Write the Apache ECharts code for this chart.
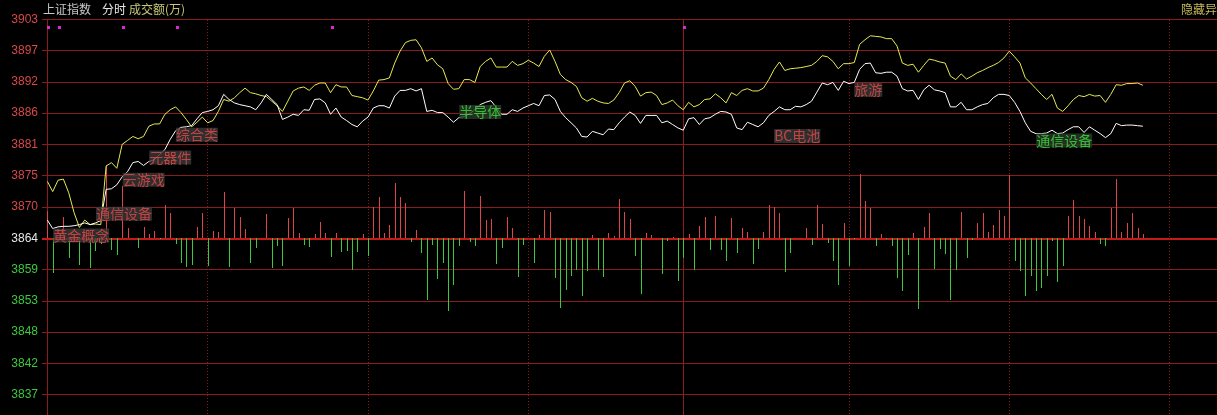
<!DOCTYPE html>
<html><head><meta charset="utf-8">
<script src="https://cdn.jsdelivr.net/npm/echarts@6/dist/echarts.min.js"></script>
<style>html,body{margin:0;padding:0;background:#000;overflow:hidden;width:1217px;height:415px}#c{width:1340px;height:432px}</style>
</head><body><div id="c"></div>
<script>
// previous close and level step of the price axis
const BASE = 3864.4;
const STEP = 5.5;
// tick labels, from 5 steps below the close to 7 steps above
const tickLabels = ['3837','3842','3848','3853','3859','3864','3870','3875','3881','3886','3892','3897','3903'];

// yellow line (one value per minute from 9:30)
const leadLine = [
3874.4,3872.6,3874.6,3874.8,3872.4,3868.9,3866.3,3867.6,3866.8,3866.9,
3866.8,3877.1,3877.7,3876.7,3880.9,3881.6,3882.3,3881.9,3882.3,3884.1,
3884.5,3884.5,3886.2,3887.0,3887.5,3886.5,3885.3,3884.0,3884.8,3885.7,
3884.7,3885.1,3886.7,3888.8,3888.5,3889.1,3890.0,3890.8,3890.0,3889.8,
3889.5,3889.3,3888.5,3887.7,3886.7,3888.5,3890.3,3890.8,3891.0,3890.4,
3891.3,3891.7,3891.7,3890.0,3891.4,3891.0,3891.0,3889.5,3889.3,3889.1,
3888.7,3890.3,3892.2,3892.3,3892.6,3895.2,3897.3,3898.8,3899.2,3899.3,
3897.9,3895.5,3896.1,3894.9,3894.2,3891.6,3890.6,3890.7,3892.3,3892.3,
3891.8,3894.6,3895.5,3896.1,3894.5,3894.5,3894.5,3895.5,3894.8,3895.1,
3895.7,3895.2,3894.6,3896.4,3897.5,3895.5,3893.2,3892.3,3891.8,3891.1,
3889.1,3888.5,3889.0,3888.5,3888.2,3888.1,3888.7,3890.0,3891.7,3892.1,
3891.1,3889.4,3890.0,3890.1,3889.5,3887.9,3888.2,3888.7,3887.7,3887.0,
3888.3,3887.5,3887.9,3888.8,3888.9,3889.8,3889.1,3888.2,3890.0,3889.5,
3890.4,3890.7,3890.3,3890.3,3890.8,3892.3,3894.1,3895.4,3893.9,3894.2,
3894.3,3894.4,3894.6,3894.8,3895.5,3896.5,3896.3,3895.5,3894.2,3895.1,
3895.1,3895.3,3898.5,3899.3,3900.0,3899.9,3899.8,3899.5,3899.5,3898.2,
3895.2,3894.8,3895.0,3893.6,3894.8,3895.9,3895.7,3895.4,3895.2,3892.9,
3892.3,3893.3,3892.4,3892.9,3893.5,3893.9,3894.4,3894.8,3895.3,3896.1,
3897.3,3896.3,3895.2,3892.6,3891.7,3890.7,3889.7,3888.8,3889.7,3887.3,
3886.7,3887.7,3888.8,3889.5,3889.3,3889.7,3889.4,3889.5,3888.3,3889.7,
3891.4,3891.3,3891.6,3891.6,3891.7,3891.3
];

// white line: 上证指数
const indexLine = [
3867.6,3866.1,3866.4,3866.5,3866.5,3866.6,3866.8,3867.1,3866.8,3867.1,
3867.5,3873.0,3873.1,3873.8,3875.2,3876.1,3877.7,3877.9,3877.2,3877.9,
3878.2,3879.1,3880.0,3881.8,3883.3,3883.9,3884.0,3884.2,3885.4,3886.5,
3886.7,3887.0,3887.7,3889.7,3888.8,3888.2,3887.9,3887.7,3887.5,3887.0,
3888.2,3889.7,3888.8,3887.9,3885.3,3885.7,3886.2,3886.0,3887.0,3886.9,
3888.8,3888.9,3888.2,3886.2,3887.3,3885.7,3885.1,3884.4,3884.0,3885.0,
3885.7,3887.3,3887.7,3887.7,3887.3,3889.4,3890.4,3890.4,3890.7,3890.3,
3890.7,3886.7,3886.9,3886.5,3886.5,3885.7,3884.8,3885.6,3885.8,3886.3,
3887.0,3887.9,3888.3,3888.6,3887.4,3886.2,3886.2,3887.0,3886.7,3887.3,
3887.7,3888.1,3887.7,3889.5,3889.6,3888.8,3886.7,3885.6,3884.7,3883.8,
3882.3,3882.2,3883.2,3882.9,3882.6,3883.6,3883.5,3884.7,3885.7,3886.6,
3886.0,3884.6,3886.0,3886.0,3886.0,3884.7,3885.0,3884.4,3883.8,3883.4,
3885.4,3885.6,3884.4,3885.4,3885.6,3886.2,3886.7,3886.6,3886.2,3883.8,
3883.5,3884.8,3884.4,3884.0,3884.7,3886.0,3886.7,3887.5,3887.0,3887.0,
3887.6,3887.5,3887.9,3888.5,3890.1,3891.7,3891.4,3891.8,3890.4,3892.0,
3891.6,3891.8,3894.1,3895.1,3895.2,3893.5,3893.4,3893.6,3893.6,3892.9,
3890.7,3890.3,3890.4,3888.8,3890.5,3891.3,3890.5,3890.3,3890.0,3887.5,
3887.5,3888.3,3887.0,3887.0,3887.5,3887.9,3888.1,3889.1,3889.7,3889.7,
3889.5,3888.3,3886.7,3884.7,3883.2,3882.8,3882.8,3882.9,3883.4,3882.8,
3882.9,3883.5,3884.0,3884.0,3883.0,3884.0,3883.4,3882.8,3882.1,3882.8,
3884.6,3884.2,3884.3,3884.3,3884.2,3884.1
];

// 成交额 bars per minute (signed: up red, down green), relative units
const flow = [
27,-35,0,21,-20,0,-27,0,-30,-13,
-6,73,-12,-17,52,10,0,-10,11,4,
7,-1,33,25,-6,-25,-29,-27,11,25,
-28,7,6,46,-29,30,21,9,-25,-10,
0,24,-30,-8,-28,20,30,5,-7,-9,
4,16,5,-19,5,-14,-13,-32,-14,4,
-18,31,41,5,13,55,41,35,-4,8,
-15,-62,-7,-41,-25,-73,-47,-8,47,-4,
-8,42,18,19,-26,-10,21,10,-39,-7,
0,-25,3,28,26,-40,-70,-52,-38,-32,
-58,-33,3,-32,-39,5,2,39,26,19,
-18,-56,5,3,0,-36,-3,1,-43,-20,
4,-32,12,21,-12,22,-12,-23,20,-15,
10,6,-26,-11,6,33,31,25,-34,-15,
0,0,10,-7,33,14,-5,-23,-47,15,
-28,-1,64,37,30,-8,4,-1,-8,-40,
-53,-17,5,-71,11,25,-31,-11,-16,-62,
-32,26,-20,-2,15,25,6,13,28,22,
63,-23,-33,-58,-38,-53,-50,-38,-3,-44,
-28,22,38,22,19,12,6,-6,-8,30,
59,6,15,25,10,4
];

// event markers (minute index) and their level
const markerMinutes = [0,2,14,24,53,119];
const markerLevel = 3901.5;

// sector notes: name, minute, level, rising?
const noteNames  = ['黄金概念','通信设备','云游戏','元器件','综合类','半导体','BC电池','旅游','通信设备'];
const noteMinute = [1.1, 9.1, 14.1, 19.06, 24.06, 77.07, 136.0, 151.0, 185.04];
const noteLevel  = [3864.9, 3868.7, 3874.7, 3878.6, 3882.6, 3886.6, 3882.4, 3890.5, 3881.6];
const noteUp     = [true, true, true, true, true, false, true, true, false];

// half-hour separators and the lunch break
const halfHours = [30, 60, 90, 150, 180, 210];
const lunchBreak = 119;

const RED = '#8c1c1c';
const chart = echarts.init(document.getElementById('c'), null, {renderer: 'canvas'});

const pxPerMin = 5.344;
const lvlPx = 31.28;

chart.setOption({
  backgroundColor: '#000',
  animation: false,
  grid: {left: 42, top: 19.3, width: 241 * pxPerMin, height: 13 * lvlPx, containLabel: false},
  xAxis: {type: 'value', min: -1, max: 240, show: false},
  yAxis: [{
    type: 'value', min: -6 * STEP, max: 7 * STEP, interval: STEP,
    axisLine: {show: true, lineStyle: {color: RED, width: 1}},
    axisTick: {show: false},
    splitLine: {show: true, lineStyle: {color: RED, width: 1}},
    axisLabel: {
      margin: 4, fontSize: 12, fontFamily: 'Liberation Sans',
      formatter: function (v) {
        const k = Math.round(v / STEP);
        const s = tickLabels[k + 5];
        return s === undefined ? '' : s;
      },
      color: function (v) {
        const k = Math.round(v / STEP);
        return k > 0 ? '#d84848' : (k === 0 ? '#e8e8e8' : '#3cc83c');
      }
    }
  }, {
    type: 'value', min: -6 * lvlPx, max: 7 * lvlPx, show: false
  }],
  graphic: [
    {type: 'text', left: 43, top: 3, style: {text: '上证指数', fill: '#c8c8c8', font: '12px "Noto Sans CJK SC"'}},
    {type: 'text', left: 102, top: 3, style: {text: '分时', fill: '#e8e8e8', font: '12px "Noto Sans CJK SC"'}},
    {type: 'text', left: 129, top: 3, style: {text: '成交额(万)', fill: '#c8c878', font: '12px "Noto Sans CJK SC"'}},
    {type: 'text', left: 1181, top: 3, style: {text: '隐藏异', fill: '#c4b858', font: '12px "Noto Sans CJK SC"'}}
  ],
  series: [
    {
      type: 'custom', yAxisIndex: 1, z: 2, clip: true,
      data: flow.map((v, i) => [i, v]),
      renderItem: function (params, api) {
        const i = api.value(0), v = api.value(1);
        if (!v) return null;
        const p0 = api.coord([i, 0]);
        const p1 = api.coord([i, v]);
        const x = Math.round(p0[0]);
        const y0 = Math.round(p0[1]), y1 = Math.round(p1[1]);
        return {type: 'rect', shape: {x: x, y: Math.min(y0, y1), width: 1, height: Math.abs(y1 - y0)},
                style: {fill: v > 0 ? '#dc4646' : '#3cc83c'}};
      }
    },
    {
      type: 'line', z: 3, symbol: 'none', silent: true,
      data: leadLine.map((v, i) => [i, +(v - BASE).toFixed(2)]),
      lineStyle: {color: '#e8e854', width: 1}
    },
    {
      type: 'line', z: 4, symbol: 'none', silent: true,
      data: indexLine.map((v, i) => [i, +(v - BASE).toFixed(2)]),
      lineStyle: {color: '#ffffff', width: 1},
      markLine: {
        silent: true, symbol: 'none', label: {show: false}, z: 1,
        data: [{yAxis: 0, lineStyle: {color: '#c41a1a', width: 2, type: 'solid'}}]
          .concat(halfHours.map(m => ({xAxis: m, lineStyle: {color: RED, width: 1, type: [1, 2]}})))
          .concat([{xAxis: lunchBreak, lineStyle: {color: RED, width: 1, type: 'solid'}}])
      }
    },
    {
      type: 'custom', z: 5, silent: true,
      data: markerMinutes.map(m => [m, +(markerLevel - BASE).toFixed(2)]),
      renderItem: function (params, api) {
        const p = api.coord([api.value(0), api.value(1)]);
        return {type: 'rect', shape: {x: Math.round(p[0]), y: Math.round(p[1]) - 1, width: 3, height: 3},
                style: {fill: '#d828d8'}};
      }
    },
    {
      type: 'scatter', z: 6, symbolSize: 0, silent: true,
      data: noteNames.map((n, k) => ({
        name: n, value: [noteMinute[k], +(noteLevel[k] - BASE).toFixed(2)],
        label: {
          color: noteUp[k] ? '#e84848' : '#3ce03c',
          backgroundColor: noteUp[k] ? '#3a3a3a' : '#2a3a2a'
        }
      })),
      label: {
        show: true, position: 'right', distance: 0, formatter: '{b}',
        fontSize: 14, lineHeight: 14, padding: [0, 0, 0, 0],
        fontFamily: '"Noto Sans CJK SC"'
      }
    }
  ]
});
</script>
</body></html>
